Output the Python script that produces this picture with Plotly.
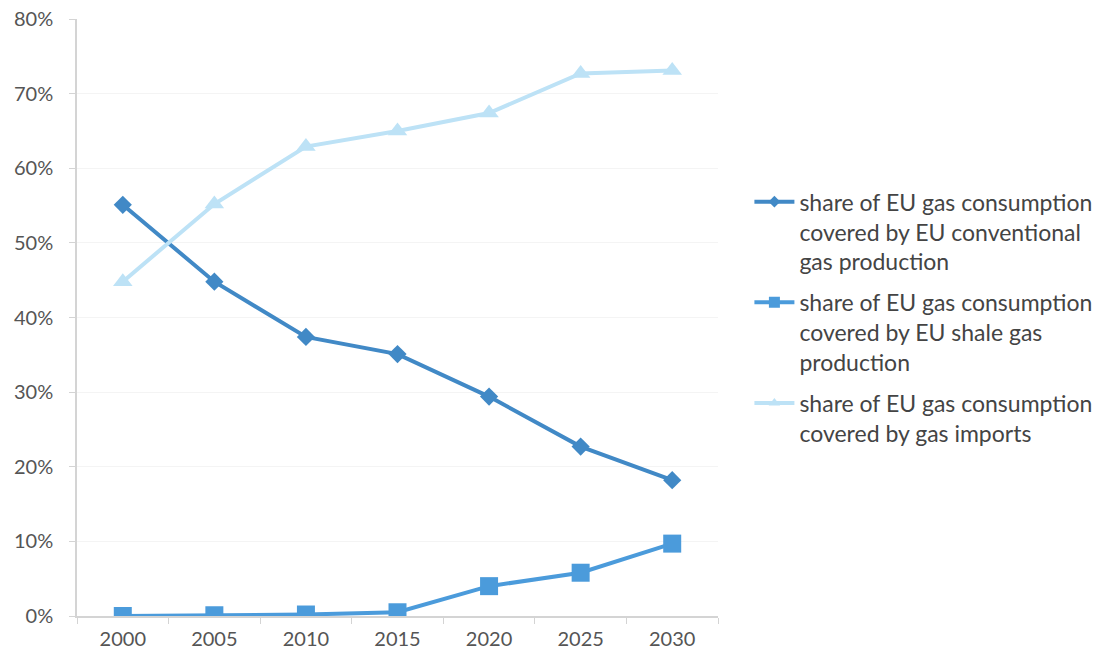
import plotly.graph_objects as go

years = ["2000", "2005", "2010", "2015", "2020", "2025", "2030"]
conventional = [55.1, 44.8, 37.4, 35.1, 29.4, 22.7, 18.2]
shale = [0.0, 0.1, 0.2, 0.5, 4.0, 5.8, 9.7]
imports = [44.8, 55.2, 62.9, 65.0, 67.4, 72.7, 73.1]

names = [
    "share of EU gas consumption<br>covered by EU conventional<br>gas production",
    "share of EU gas consumption<br>covered by EU shale gas<br>production",
    "share of EU gas consumption<br>covered by gas imports",
]
groups = ["conventional", "shale", "imports"]
colors = ["#4189C6", "#4B9BDB", "#BDE2F6"]
symbols = ["diamond", "square", "triangle-up"]
plot_sizes = [14, 18, 17]
legend_sizes = [9, 11, 10]
series = [conventional, shale, imports]

fig = go.Figure()
for vals, name, grp, col, sym, ps in zip(series, names, groups, colors, symbols, plot_sizes):
    fig.add_trace(go.Scatter(
        x=years, y=vals, name=name, legendgroup=grp, mode="lines+markers",
        showlegend=False,
        line=dict(color=col, width=4),
        marker=dict(symbol=sym, size=ps, color=col),
    ))
# legend entries with smaller markers, as in the original key
for name, grp, col, sym, ls in zip(names, groups, colors, symbols, legend_sizes):
    fig.add_trace(go.Scatter(
        x=[None], y=[None], name=name, legendgroup=grp, mode="lines+markers",
        line=dict(color=col, width=4),
        marker=dict(symbol=sym, size=ls, color=col),
    ))

font = "Lato, Open Sans, sans-serif"
fig.update_layout(
    width=1100, height=659,
    margin=dict(l=77, r=382, t=19, b=43, autoexpand=False),
    paper_bgcolor="white", plot_bgcolor="white",
    font=dict(family=font, size=20, color="#555555"),
    legend=dict(
        x=1.049, y=0.73, xanchor="left", yanchor="top",
        font=dict(family=font, size=23, color="#444444"),
        tracegroupgap=8, itemwidth=40, valign="top",
        bgcolor="rgba(0,0,0,0)",
    ),
    xaxis=dict(
        type="category", range=[-0.5, 6.5], automargin=False,
        showgrid=False, showline=True, linecolor="#D4D4D4", linewidth=1.5,
        ticks="outside", tickson="boundaries", ticklen=6, tickcolor="#D4D4D4",
        ticklabelstandoff=4,
        tickfont=dict(size=20, color="#555555"), zeroline=False,
    ),
    yaxis=dict(
        range=[0, 80], dtick=10, ticksuffix="%", automargin=False,
        showgrid=True, gridcolor="#F4F4F4", gridwidth=1,
        showline=True, linecolor="#D4D4D4", linewidth=1.5,
        ticks="outside", ticklen=6, tickcolor="#D4D4D4",
        ticklabelstandoff=12,
        tickfont=dict(size=20, color="#555555"), zeroline=False,
    ),
)

fig.write_html("out.html")
